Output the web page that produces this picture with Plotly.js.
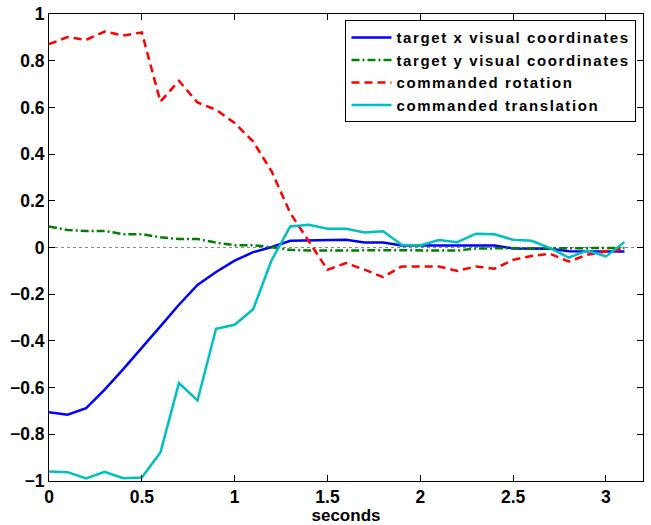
<!DOCTYPE html>
<html>
<head>
<meta charset="utf-8">
<script src="https://cdn.plot.ly/plotly-3.0.1.min.js"></script>
<style>html,body{margin:0;padding:0;background:#fff;}#chart{width:651px;height:525px;}
text.legendtext{letter-spacing:1.6px;}</style>
</head>
<body>
<div id="chart"></div>
<script>
const seconds = [0,0.1,0.2,0.3,0.4,0.5,0.6,0.7,0.8,0.9,1.0,1.1,1.2,1.3,1.4,1.5,1.6,1.7,1.8,1.9,2.0,2.1,2.2,2.3,2.4,2.5,2.6,2.7,2.8,2.9,3.0,3.1];
const targetX = [-0.705,-0.716,-0.688,-0.609,-0.521,-0.431,-0.338,-0.245,-0.160,-0.105,-0.056,-0.020,0.002,0.029,0.030,0.033,0.033,0.021,0.021,0.009,0.009,0.009,0.007,0.009,0.009,-0.004,-0.004,-0.005,-0.016,-0.016,-0.016,-0.017];
const targetY = [0.090,0.075,0.071,0.071,0.057,0.057,0.044,0.036,0.036,0.021,0.010,0.010,0.001,-0.010,-0.013,-0.012,-0.012,-0.012,-0.012,-0.012,-0.012,-0.012,-0.013,-0.004,-0.003,-0.003,-0.003,-0.003,-0.003,-0.002,-0.002,-0.002];
const rotation = [0.871,0.901,0.889,0.925,0.908,0.921,0.625,0.714,0.621,0.590,0.533,0.454,0.325,0.147,0.026,-0.095,-0.067,-0.095,-0.127,-0.081,-0.081,-0.081,-0.100,-0.081,-0.091,-0.053,-0.036,-0.027,-0.060,-0.031,-0.017,-0.008];
const translation = [-0.959,-0.962,-0.989,-0.961,-0.988,-0.985,-0.878,-0.581,-0.655,-0.348,-0.331,-0.264,-0.053,0.090,0.097,0.080,0.080,0.064,0.070,0.012,0.009,0.032,0.023,0.059,0.057,0.033,0.029,-0.003,-0.043,-0.013,-0.038,0.023];
const names = ["target x visual coordinates","target y visual coordinates","commanded rotation","commanded translation"];
const xTicks = [0,0.5,1,1.5,2,2.5,3];
const yTicks = [-1,-0.8,-0.6,-0.4,-0.2,0,0.2,0.4,0.6,0.8,1];

const FAM = "Liberation Sans, Arial, Helvetica, sans-serif";
const F = {family:FAM, size:17.5, color:"#000", weight:"bold"};
const FT = {family:FAM, size:17, color:"#000", weight:"bold"};
const FL = {family:FAM, size:15, color:"#000", weight:"bold"};
const traces = [
  {x:seconds, y:targetX, name:names[0], mode:"lines", line:{color:"#0000ff", width:2.5}},
  {x:seconds, y:targetY, name:names[1], mode:"lines", line:{color:"#008000", width:2.5, dash:"8px,3px,2px,3px"}},
  {x:seconds, y:rotation, name:names[2], mode:"lines", line:{color:"#ff0000", width:2.5, dash:"8px,5px"}},
  {x:seconds, y:translation, name:names[3], mode:"lines", line:{color:"#00bfbf", width:2.5}}
];
const layout = {
  width:651, height:525,
  margin:{l:49, r:8, t:14, b:44},
  paper_bgcolor:"#fff", plot_bgcolor:"#fff",
  font:F,
  showlegend:true,
  legend:{x:0.989, xanchor:"right", y:0.9865, yanchor:"top", bordercolor:"#000", borderwidth:1, bgcolor:"#fff", font:FL, tracegroupgap:0, itemwidth:40},
  xaxis:{range:[0,3.2], tickvals:xTicks, ticks:"inside", ticklen:6, tickcolor:"#000", showline:true, linecolor:"#000", linewidth:1, mirror:"ticks", showgrid:false, zeroline:false, tickfont:F, title:{text:"seconds", font:FT, standoff:2}},
  yaxis:{range:[-1,1], tickvals:yTicks, ticks:"inside", ticklen:6, tickcolor:"#000", showline:true, linecolor:"#000", linewidth:1, mirror:"ticks", showgrid:false, zeroline:false, tickfont:F},
  shapes:[{type:"line", xref:"paper", x0:0, x1:1, yref:"y", y0:0, y1:0, line:{color:"#888", width:1, dash:"dot"}, layer:"below"}]
};
Plotly.newPlot("chart", traces, layout, {displayModeBar:false, staticPlot:true});
</script>
</body>
</html>
